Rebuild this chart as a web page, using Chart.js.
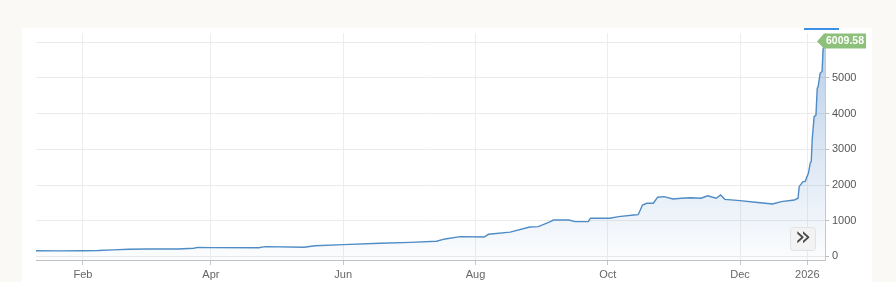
<!DOCTYPE html>
<html lang="en">
<head>
    <meta charset="UTF-8">
    <title>Price chart</title>
    <script src="https://cdn.jsdelivr.net/npm/chart.js"></script>
    <style>
        body {
            margin: 0;
            padding: 0;
            background-color: #faf9f5;
            width: 896px;
            height: 282px;
            overflow: hidden;
        }

        .panel {
            position: absolute;
            left: 22px;
            top: 28px;
            width: 850px;
            height: 254px;
            background-color: #fff;
        }
    </style>
</head>
<body>
    <div class="panel">
        <canvas id="myChart" width="850" height="254"></canvas>
    </div>

<script>
    // price history
    var dates = [
        '2025-01-10 08:00', '2025-01-21', '2025-02-01', '2025-02-08', '2025-02-15', '2025-02-22',
        '2025-03-03', '2025-03-17', '2025-03-24', '2025-03-26', '2025-04-01', '2025-04-23',
        '2025-04-26', '2025-05-14', '2025-05-19', '2025-06-01', '2025-06-18', '2025-07-02',
        '2025-07-14', '2025-07-18', '2025-07-25', '2025-08-05', '2025-08-07', '2025-08-17',
        '2025-08-26', '2025-08-30', '2025-09-04', '2025-09-06', '2025-09-13', '2025-09-16',
        '2025-09-22', '2025-09-23', '2025-10-02', '2025-10-06', '2025-10-13', '2025-10-15',
        '2025-10-16', '2025-10-17', '2025-10-19', '2025-10-22', '2025-10-24', '2025-10-27',
        '2025-10-31', '2025-11-04', '2025-11-08', '2025-11-13', '2025-11-16', '2025-11-20',
        '2025-11-22', '2025-11-24', '2025-12-01', '2025-12-08', '2025-12-16', '2025-12-20',
        '2025-12-26', '2025-12-27 18:00', '2025-12-28 06:00', '2025-12-30', '2025-12-31',
        '2026-01-01 12:00', '2026-01-02 09:00', '2026-01-02 20:00', '2026-01-03 06:00',
        '2026-01-03 18:00', '2026-01-04 04:00', '2026-01-05 00:00', '2026-01-05 14:00',
        '2026-01-06 00:00', '2026-01-06 22:00', '2026-01-07 20:00', '2026-01-08 06:00',
        '2026-01-09 04:00'
    ];
    var prices = [
        160, 155, 160, 165, 185, 200,
        210, 210, 230, 255, 248, 245,
        275, 258, 300, 330, 370, 395,
        425, 490, 555, 545, 620, 680,
        825, 835, 960, 1020, 1020, 975,
        975, 1070, 1070, 1115, 1160, 1170,
        1300, 1440, 1490, 1490, 1660, 1675,
        1610, 1630, 1645, 1630, 1700, 1630,
        1720, 1600, 1565, 1520, 1470, 1535,
        1580, 1630, 1955, 2095, 2100,
        2330, 2620, 2660, 3260,
        3635, 3915, 3960, 4710,
        4760, 5130, 5180, 5785,
        6009.58
    ];
    var tickDates = ['2025-02-01', '2025-04-01', '2025-06-01', '2025-08-01', '2025-10-01', '2025-12-01', '2026-01-01'];
    var tickLabels = ['Feb', 'Apr', 'Jun', 'Aug', 'Oct', 'Dec', '2026'];
    var yTicks = [0, 1000, 2000, 3000, 4000, 5000, 6000];

    // days since 2025-01-01
    function toDay(s) {
        var t = Date.parse(s.replace(' ', 'T') + (s.length > 10 ? ':00Z' : 'T00:00:00Z'));
        return (t - Date.UTC(2025, 0, 1)) / 86400000;
    }

    var points = dates.map(function(d, i) { return { x: toDay(d), y: prices[i] }; });
    var tickDays = tickDates.map(toDay);

    var extras = {
        id: 'extras',
        afterDraw: function(chart) {
            var ctx = chart.ctx;
            var area = chart.chartArea;
            var ys = chart.scales.y;

            // blue bar at the top
            ctx.save();
            ctx.fillStyle = '#3c90e6';
            ctx.fillRect(782, 0, 35, 2);

            // last price label
            var last = prices[prices.length - 1];
            var py = Math.round(ys.getPixelForValue(last)) - 0.5;
            var tip = area.right - 8;
            ctx.fillStyle = '#8dc07a';
            ctx.beginPath();
            ctx.moveTo(tip, py);
            ctx.lineTo(tip + 7, py - 8);
            ctx.lineTo(tip + 49, py - 8);
            ctx.lineTo(tip + 49, py + 7);
            ctx.lineTo(tip + 7, py + 7);
            ctx.closePath();
            ctx.fill();
            ctx.fillStyle = '#fff';
            ctx.font = 'bold 10.5px "Liberation Sans", Arial, sans-serif';
            ctx.textAlign = 'center';
            ctx.textBaseline = 'middle';
            ctx.fillText(last.toFixed(2), tip + 28, py);

            // scroll button
            var bx = 768, by = 199, bw = 25, bh = 23;
            ctx.fillStyle = '#f3f3f3';
            ctx.strokeStyle = '#e2e2e2';
            ctx.beginPath();
            ctx.roundRect(bx + 0.5, by + 0.5, bw, bh, 3);
            ctx.fill();
            ctx.stroke();
            ctx.fillStyle = '#4a4a4a';
            ctx.font = '27px "DejaVu Sans", sans-serif';
            ctx.fillText('\u00bb', bx + bw / 2 + 0.5, by + bh / 2 - 1);
            ctx.restore();
        }
    };

    var ctx = document.getElementById('myChart').getContext('2d');
    var myChart = new Chart(ctx, {
        type: 'line',
        data: {
            datasets: [{
                data: points,
                borderColor: '#4f8cc6',
                borderWidth: 1.4,
                pointRadius: 0,
                tension: 0,
                fill: 'start',
                backgroundColor: function(context) {
                    var area = context.chart.chartArea;
                    if (!area) return 'rgba(100,150,210,0.1)';
                    var g = context.chart.ctx.createLinearGradient(0, area.top, 0, area.bottom);
                    g.addColorStop(0, 'rgba(95,145,205,0.45)');
                    g.addColorStop(1, 'rgba(95,145,205,0.02)');
                    return g;
                }
            }]
        },
        options: {
            responsive: false,
            animation: false,
            layout: { padding: { left: 14, top: 5, right: 0, bottom: 0 } },
            plugins: {
                legend: { display: false },
                tooltip: { enabled: false }
            },
            scales: {
                x: {
                    type: 'linear',
                    min: points[0].x,
                    max: points[points.length - 1].x,
                    afterBuildTicks: function(scale) {
                        scale.ticks = tickDays.map(function(v) { return { value: v }; });
                    },
                    afterFit: function(scale) {
                        scale.height = 22;
                        scale.paddingLeft = 0;
                        scale.paddingRight = 0;
                    },
                    ticks: {
                        autoSkip: false,
                        maxRotation: 0,
                        padding: 3,
                        color: '#666',
                        font: { family: '"Liberation Sans", Arial, sans-serif', size: 11 },
                        callback: function(v) {
                            var i = tickDays.indexOf(v);
                            return i >= 0 ? tickLabels[i] : '';
                        }
                    },
                    grid: {
                        color: '#ededed',
                        tickColor: '#c8c8c8',
                        tickLength: 5
                    },
                    border: { color: '#c0c0c0' }
                },
                y: {
                    position: 'right',
                    min: -100,
                    max: 6260,
                    afterBuildTicks: function(scale) {
                        scale.ticks = yTicks.map(function(v) { return { value: v }; });
                    },
                    afterFit: function(scale) {
                        scale.width = 47;
                        scale.paddingTop = 0;
                        scale.paddingBottom = 0;
                    },
                    ticks: {
                        padding: 3,
                        color: '#555',
                        font: { family: '"Liberation Sans", Arial, sans-serif', size: 11 },
                        callback: function(v) { return v === 6000 ? '' : v; }
                    },
                    grid: {
                        color: '#ebebeb',
                        tickColor: '#bbb',
                        tickLength: 4
                    },
                    border: { color: '#c8c8c8' }
                }
            }
        },
        plugins: [extras]
    });
</script>
</body>
</html>
